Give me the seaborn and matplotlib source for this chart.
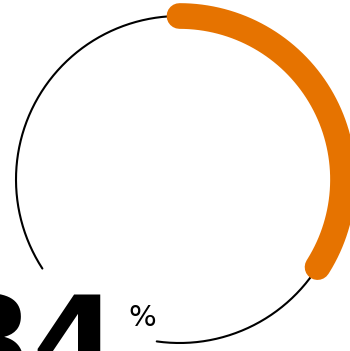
import numpy as np
import pandas as pd
import matplotlib.pyplot as plt
import seaborn as sns

# gauge value (percent)
value = 34
value_label = "34"
unit_label = "%"

# angles (degrees, clockwise from 12 o'clock) where the track is hidden behind the label
gap_start = 188
gap_end = 237

ORANGE = "#E67300"

sns.set_theme(style="white")
plt.rcParams["font.family"] = ["DejaVu Sans"]


def arc_frame(a0, a1, n=200):
    # points on the unit circle, angle measured clockwise from the top
    t = np.radians(np.linspace(a0, a1, n))
    return pd.DataFrame({"x": np.sin(t), "y": np.cos(t), "order": np.arange(n)})


fig = plt.figure(figsize=(3.5, 3.51), dpi=100)
ax = fig.add_axes([0, 0, 1, 1])

# thin background track, with a gap for the label
track = arc_frame(gap_end, 360 + gap_start, 400)
sns.lineplot(data=track, x="x", y="y", sort=False, estimator=None,
             color="black", linewidth=1.5, ax=ax)

# value arc
val = arc_frame(0, value / 100 * 360)
sns.lineplot(data=val, x="x", y="y", sort=False, estimator=None,
             color=ORANGE, linewidth=18.5, solid_capstyle="round", ax=ax)

# big number + unit
ax.text(-0.37, -1.26, value_label, ha="right", va="baseline",
        fontsize=90, fontweight="heavy", color="black")
ax.text(-0.31, -0.895, unit_label, ha="left", va="baseline",
        fontsize=21, color="black")

r = 163.5
ax.set_xlim(-179.5 / r, 170.5 / r)
ax.set_ylim(-171.5 / r, 179.5 / r)
ax.set_axis_off()

fig.savefig("out.png", dpi=100)
